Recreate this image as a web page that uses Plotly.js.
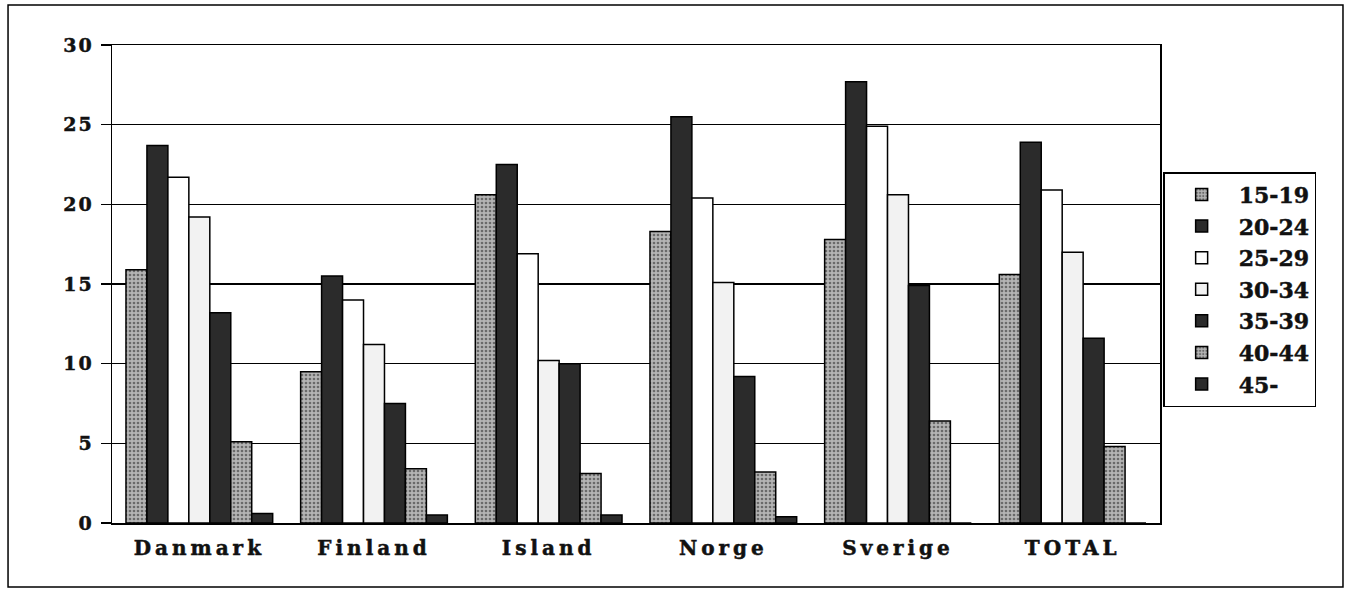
<!DOCTYPE html>
<html>
<head>
<meta charset="utf-8">
<script src="https://cdn.plot.ly/plotly-3.0.1.min.js"></script>
<style>
html,body{margin:0;padding:0;background:#fff;}
#chart{width:1351px;height:591px;}
#chart .xtick text{letter-spacing:4px;}
#chart .ytick text{letter-spacing:2px;}
#chart .xtick text, #chart .ytick text, #chart .legendtext{stroke:#111;stroke-width:0.5px;}
</style>
</head>
<body>
<div id="chart"></div>
<script>
const categories = ["Danmark", "Finland", "Island", "Norge", "Sverige", "TOTAL"];
const seriesNames = ["15-19", "20-24", "25-29", "30-34", "35-39", "40-44", "45-"];
const s15_19 = [15.9, 9.5, 20.6, 18.3, 17.8, 15.6];
const s20_24 = [23.7, 15.5, 22.5, 25.5, 27.7, 23.9];
const s25_29 = [21.7, 14.0, 16.9, 20.4, 24.9, 20.9];
const s30_34 = [19.2, 11.2, 10.2, 15.1, 20.6, 17.0];
const s35_39 = [13.2, 7.5, 10.0, 9.2, 14.9, 11.6];
const s40_44 = [5.1, 3.4, 3.1, 3.2, 6.4, 4.8];
const s45 = [0.6, 0.5, 0.5, 0.4, 0, 0];
const yTicks = [0, 5, 10, 15, 20, 25, 30];

const values = [s15_19, s20_24, s25_29, s30_34, s35_39, s40_44, s45];
const styles = [
  {color: "#a8a8a8", pattern: {shape: ".", fgcolor: "#6a6a6a", bgcolor: "#b4b4b4", size: 4, solidity: 0.35}},
  {color: "#2b2b2b"},
  {color: "#ffffff"},
  {color: "#f2f2f2"},
  {color: "#2b2b2b"},
  {color: "#a8a8a8", pattern: {shape: ".", fgcolor: "#6a6a6a", bgcolor: "#b4b4b4", size: 4, solidity: 0.35}},
  {color: "#2b2b2b"}
];

const traces = seriesNames.map((name, i) => ({
  type: "bar",
  name: name,
  x: categories,
  y: values[i],
  marker: Object.assign({line: {color: "#000", width: 1.5}}, styles[i])
}));

const serif = "DejaVu Serif, Liberation Serif, serif";
const layout = {
  width: 1351, height: 591,
  margin: {l: 112, r: 191, t: 45, b: 68},
  paper_bgcolor: "#fff", plot_bgcolor: "#fff",
  barmode: "group", bargap: 0.16, bargroupgap: 0,
  showlegend: true,
  legend: {
    x: 1.003, y: 0.734, xanchor: "left", yanchor: "top",
    bordercolor: "#000", borderwidth: 1.5, bgcolor: "#fff",
    font: {family: serif, size: 22, color: "#111", weight: "bold"},
    tracegroupgap: 0, itemwidth: 64
  },
  xaxis: {
    type: "category",
    showline: true, linecolor: "#000", linewidth: 1.5, mirror: true,
    ticks: "", showgrid: false,
    tickfont: {family: serif, size: 20, color: "#111", weight: "bold"},
    ticklabelstandoff: 6
  },
  yaxis: {
    range: [0, 30], tickvals: yTicks, ticktext: yTicks.map(String),
    showline: true, linecolor: "#000", linewidth: 1.5, mirror: true,
    showgrid: true, gridcolor: "#000", gridwidth: 1.6,
    ticks: "outside", ticklen: 10, tickcolor: "#000", tickwidth: 1.5,
    tickfont: {family: serif, size: 19, color: "#111", weight: "bold"},
    ticklabelstandoff: 3, zeroline: false
  },
  shapes: [{
    type: "rect", xref: "paper", yref: "paper",
    x0: -0.0992, x1: 1.1746, y0: -0.1339, y1: 1.0837,
    line: {color: "#000", width: 1.5}, fillcolor: "rgba(0,0,0,0)", layer: "below"
  }]
};

Plotly.newPlot("chart", traces, layout, {displayModeBar: false, staticPlot: true});
</script>
</body>
</html>
